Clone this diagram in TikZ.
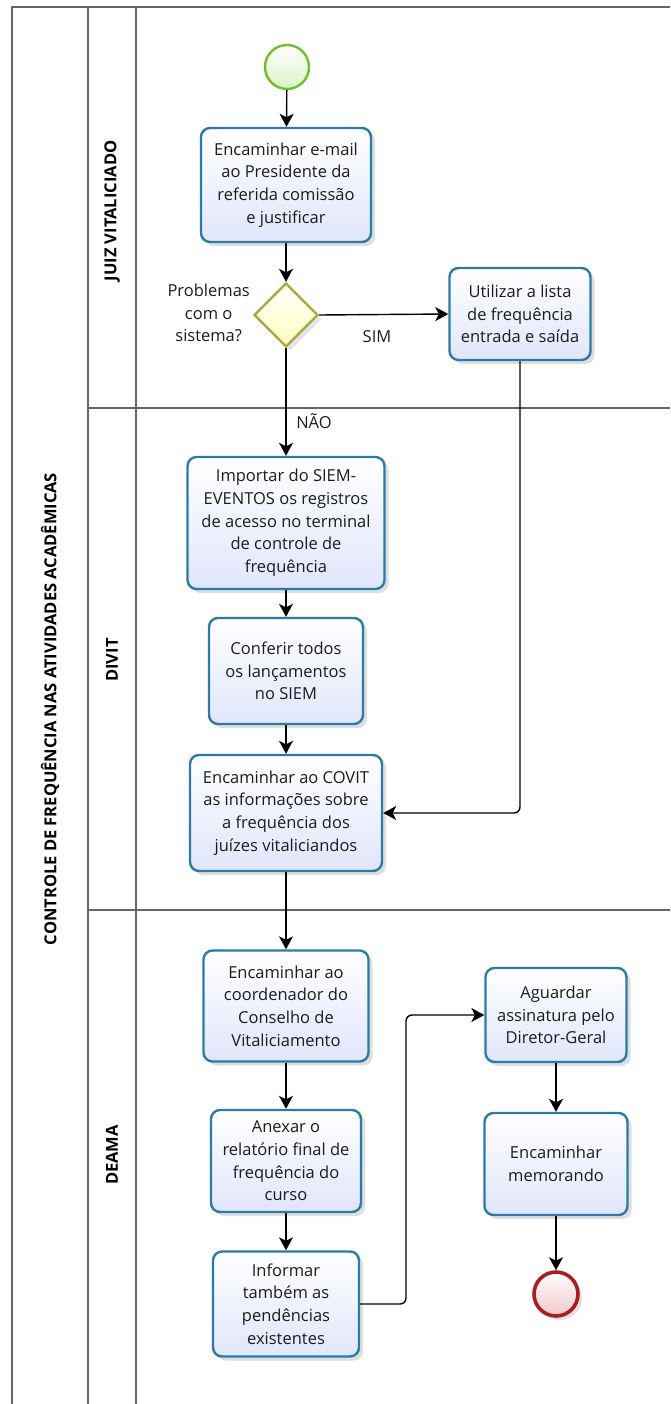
\documentclass[tikz,border=0pt]{standalone}
\usepackage{fontspec}
\setmainfont{Open Sans}
\usetikzlibrary{arrows.meta,shapes.geometric,shadows}

\definecolor{taskborder}{HTML}{2A7BA6}
\definecolor{taskfill}{HTML}{E0E6FA}
\definecolor{gwborder}{HTML}{A8A83A}
\definecolor{gwfill}{HTML}{FFFFC0}
\definecolor{startborder}{HTML}{6DBF2F}
\definecolor{startfill}{HTML}{D9F2C6}
\definecolor{endborder}{HTML}{A81E22}
\definecolor{endfill}{HTML}{F0C8CA}
\definecolor{laneline}{HTML}{666666}
\definecolor{txt}{HTML}{1C1C1C}

\tikzset{
  lane/.style={draw=laneline, line width=1.6pt},
  task/.style={rectangle, rounded corners=9pt, draw=taskborder, line width=2.4pt,
    top color=white, bottom color=taskfill, align=center, inner sep=0pt,
    text=txt, font=\fontsize{16.5}{22.7}\selectfont,
    drop shadow={shadow xshift=4pt, shadow yshift=-4pt, opacity=0.13, fill=black}},
  gateway/.style={diamond, aspect=1, inner sep=0pt, minimum size=64pt,
    draw=gwborder, line width=2.4pt, top color=white, bottom color=gwfill,
    drop shadow={shadow xshift=4pt, shadow yshift=-4pt, opacity=0.1, fill=black}},
  startev/.style={circle, inner sep=0pt, minimum size=44pt, draw=startborder,
    line width=2.4pt, top color=white, bottom color=startfill},
  endev/.style={circle, inner sep=0pt, minimum size=44pt, draw=endborder,
    line width=3.6pt, top color=white, bottom color=endfill,
    drop shadow={shadow xshift=4pt, shadow yshift=-4pt, opacity=0.12, fill=black}},
  flow/.style={draw=black, line width=1.4pt,
    -{Stealth[length=13pt, width=14pt, inset=3.5pt]}},
  lbl/.style={align=center, text=txt, font=\fontsize{16.5}{22.7}\selectfont, inner sep=0pt},
  lanelbl/.style={rotate=90, text=black, font=\bfseries\fontsize{16.5}{18}\selectfont, inner sep=0pt},
}

\begin{document}
\begin{tikzpicture}[x=1pt, y=-1pt]
\useasboundingbox (0,0) rectangle (670,1404);

% pool and lanes
\draw[lane] (12,1404) -- (12,7) -- (670,7);
\draw[lane] (88,7) -- (88,1404);
\draw[lane] (136,7) -- (136,1404);
\draw[lane] (88,408) -- (670,408);
\draw[lane] (88,910) -- (670,910);

\node[lanelbl] (pool) at (50,709) {CONTROLE DE FREQUÊNCIA NAS ATIVIDADES ACADÊMICAS};
\node[lanelbl] (lane1) at (112,211) {JUIZ VITALICIADO};
\node[lanelbl] (lane2) at (112,660) {DIVIT};
\node[lanelbl] (lane3) at (112,1155) {DEAMA};

% events, gateway and tasks
\node[startev] (s) at (287,67) {};
\node[task, minimum width=170, minimum height=114] (t1) at (286,185)
  {Encaminhar e-mail\\ao Presidente da\\referida comissão\\e justificar};
\node[gateway] (g) at (286,315) {};
\node[lbl, anchor=east] (q) at (250,313) {Problemas\\com o\\sistema?};
\node[task, minimum width=141, minimum height=92] (t2) at (520,314)
  {Utilizar a lista\\de frequência\\entrada e saída};

\node[task, minimum width=197, minimum height=132] (t3) at (286,523)
  {Importar do SIEM-\\EVENTOS os registros\\de acesso no terminal\\de controle de\\frequência};
\node[task, minimum width=154, minimum height=106] (t4) at (286,671)
  {Conferir todos\\os lançamentos\\no SIEM};
\node[task, minimum width=192, minimum height=116] (t5) at (286,813)
  {Encaminhar ao COVIT\\as informações sobre\\a frequência dos\\juízes vitaliciandos};

\node[task, minimum width=165, minimum height=111] (t6) at (286,1006)
  {Encaminhar ao\\coordenador do\\Conselho de\\Vitaliciamento};
\node[task, minimum width=150, minimum height=102] (t7) at (286,1161)
  {Anexar o\\relatório final de\\frequência do\\curso};
\node[task, minimum width=146, minimum height=105] (t8) at (286,1304)
  {Informar\\também as\\pendências\\existentes};
\node[task, minimum width=141, minimum height=94] (t9) at (556,1015)
  {Aguardar\\assinatura pelo\\Diretor-Geral};
\node[task, minimum width=143, minimum height=102] (t10) at (556,1164)
  {Encaminhar\\memorando};
\node[endev] (e) at (556,1294) {};

% sequence flows
\draw[flow] (s) -- (t1);
\draw[flow] (t1) -- (g);
\draw[flow] (g.south) -- (t3.north);
\node[lbl] (nao) at (314,421) {NÃO};
\draw[flow] (g.east) -- (t2.west);
\node[lbl] (sim) at (377,337) {SIM};
\draw[flow, rounded corners=6pt] (t2.south) |- (t5.east);
\draw[flow] (t3) -- (t4);
\draw[flow] (t4) -- (t5);
\draw[flow] (t5) -- (t6);
\draw[flow] (t6) -- (t7);
\draw[flow] (t7) -- (t8);
\coordinate (bend) at (406,1304);
\draw[flow, rounded corners=6pt] (t8.east) -- (bend) |- (t9.west);
\draw[flow] (t9) -- (t10);
\draw[flow] (t10) -- (e);
\end{tikzpicture}
\end{document}
